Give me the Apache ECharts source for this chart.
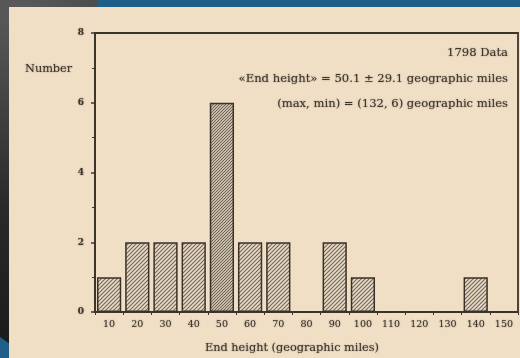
<!DOCTYPE html>
<html>
<head>
<meta charset="utf-8">
<script src="https://cdn.jsdelivr.net/npm/echarts@6/dist/echarts.min.js"></script>
<style>
  html, body { margin: 0; padding: 0; }
  body { width: 520px; height: 358px; position: relative; overflow: hidden;
    background: radial-gradient(ellipse at 20px 10px, #5a5a5a 0%, #2a2a2a 40%, #151515 80%); }
  #band { position: absolute; left: 97px; top: 0; width: 423px; height: 7px; background: #1f5e88; }
  #corner { position: absolute; left: 0; top: 330px; width: 12px; height: 28px; background: #1f5e88;
    clip-path: polygon(0 25%, 100% 55%, 100% 100%, 0 100%); }
  #paper { position: absolute; left: 9px; top: 7px; width: 511px; height: 351px; background: #f0dfc5; }
  #chart { position: absolute; left: 0; top: 0; width: 520px; height: 358px; }
</style>
</head>
<body>
<div id="band"></div>
<div id="corner"></div>
<div id="paper"></div>
<div id="chart"></div>
<script>
const categories = ['10', '20', '30', '40', '50', '60', '70', '80', '90', '100', '110', '120', '130', '140', '150']
const counts = [1, 2, 2, 2, 6, 2, 2, 0, 2, 1, 0, 0, 0, 1, 0]
const yTicks = [0, 2, 4, 6, 8]
const notes = [
  '1798 Data',
  '«End height» = 50.1 ± 29.1 geographic miles',
  '(max, min) = (132, 6) geographic miles',
]

const INK = '#3d342c'
const FONT = '"DejaVu Serif", "Liberation Serif", serif'
// scanned print looks smudgy, a light blur of the same ink gives that
const smudge = { textShadowColor: 'rgba(61,52,44,0.6)', textShadowBlur: 1.5 }

// diagonal hatch used for the bars
function hatch(step, color, width) {
  const c = document.createElement('canvas')
  c.width = step
  c.height = step
  const ctx = c.getContext('2d')
  ctx.fillStyle = '#e9dcc6'
  ctx.fillRect(0, 0, step, step)
  ctx.strokeStyle = color
  ctx.lineWidth = width
  ctx.beginPath()
  ctx.moveTo(-1, step + 1); ctx.lineTo(step + 1, -1)
  ctx.moveTo(-1, 1); ctx.lineTo(1, -1)
  ctx.moveTo(step - 1, step + 1); ctx.lineTo(step + 1, step - 1)
  ctx.stroke()
  return c
}

const plain = { image: hatch(4, '#746a60', 1.2), repeat: 'repeat' }
const dense = { image: hatch(3, '#6a6056', 1.1), repeat: 'repeat' }
const peak = Math.max(...counts)

const chart = echarts.init(document.getElementById('chart'))
chart.setOption({
  animation: false,
  grid: {
    left: 95, right: 2, top: 33, bottom: 46,
    show: true, borderColor: INK, borderWidth: 1.8, backgroundColor: 'transparent',
  },
  xAxis: {
    type: 'category',
    data: categories,
    boundaryGap: true,
    axisLine: { lineStyle: { color: INK, width: 2 } },
    axisTick: { show: true, length: 3, lineStyle: { color: INK } },
    axisLabel: { color: INK, fontFamily: FONT, fontSize: 9.5, margin: 8, ...smudge },
  },
  yAxis: {
    type: 'value',
    min: yTicks[0],
    max: yTicks[yTicks.length - 1],
    interval: 2,
    axisLine: { show: true, lineStyle: { color: INK, width: 1.8 } },
    axisTick: { show: true, length: 4, lineStyle: { color: INK, width: 1.5 } },
    minorTick: { show: true, splitNumber: 2, length: 3, lineStyle: { color: INK } },
    splitLine: { show: false },
    axisLabel: { color: INK, fontFamily: FONT, fontSize: 9, fontWeight: 'bold', margin: 11, ...smudge },
  },
  series: [{
    type: 'bar',
    barWidth: '86%',
    data: counts.map((v) => ({
      value: v,
      itemStyle: { color: v === peak ? dense : plain },
    })),
    itemStyle: { borderColor: '#3a3129', borderWidth: 1.5 },
  }],
  graphic: [
    {
      type: 'text', left: 25, top: 64,
      style: { text: 'Number', fill: INK, font: `11.3px ${FONT}`, ...smudge },
    },
    ...notes.map((t, i) => ({
      type: 'text', right: 12, top: 47 + i * 25.5,
      style: { text: t, fill: INK, font: `11.6px ${FONT}`, ...smudge },
    })),
    {
      type: 'text', left: 205, top: 343,
      style: { text: 'End height (geographic miles)', fill: INK, font: `11.3px ${FONT}`, ...smudge },
    },
  ],
})
</script>
</body>
</html>
